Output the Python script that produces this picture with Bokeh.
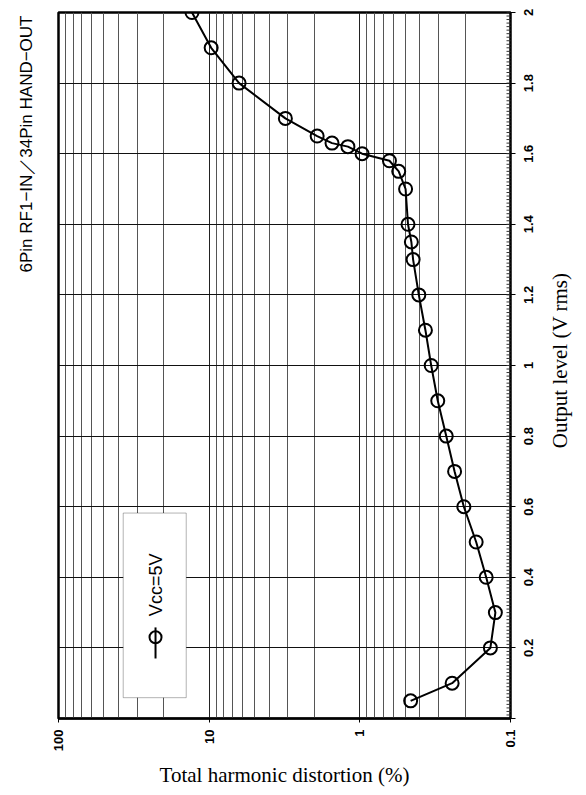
from math import pi
import numpy as np
from bokeh.plotting import figure
from bokeh.models import Range1d, FixedTicker, BoxAnnotation, Label, LinearAxis
from bokeh.embed import file_html
from bokeh.resources import INLINE

# ---- data ----
output_level = [0.05, 0.1, 0.2, 0.3, 0.4, 0.5, 0.6, 0.7, 0.8, 0.9, 1.0, 1.1,
                1.2, 1.3, 1.35, 1.4, 1.5, 1.55, 1.58, 1.6, 1.62, 1.63, 1.65,
                1.7, 1.8, 1.9, 2.0]
thd = [0.46, 0.244, 0.136, 0.126, 0.145, 0.169, 0.204, 0.235, 0.267, 0.304,
       0.336, 0.367, 0.406, 0.443, 0.455, 0.479, 0.497, 0.552, 0.636, 0.966,
       1.2, 1.53, 1.92, 3.12, 6.33, 9.7, 13.0]
series_name = "Vcc=5V"

x_ticks = [0.1, 1, 10, 100]
x_labels = ["0.1", "1", "10", "100"]
y_ticks = [0, 0.2, 0.4, 0.6, 0.8, 1.0, 1.2, 1.4, 1.6, 1.8, 2.0]
y_labels = ["0", "0.2", "0.4", "0.6", "0.8", "1", "1.2", "1.4", "1.6", "1.8", "2"]

title_text = "6Pin RF1\u2212IN\uff0f34Pin HAND\u2212OUT"
x_title = "Total harmonic distortion (%)"
y_title = "Output level (V rms)"

FW, FH = 452, 706
X0, X1 = 100, 0.1
Y0, Y1 = 0, 2
px_per_unit = FH / (Y1 - Y0)

# ---- figure ----
p = figure(frame_width=FW, frame_height=FH,
           x_axis_type="log", x_range=Range1d(X0, X1), y_range=Range1d(Y0, Y1),
           y_axis_location="right", output_backend="svg", toolbar_location=None,
           min_border_left=58, min_border_right=68, min_border_top=12,
           min_border_bottom=68, background_fill_color="white",
           border_fill_color="white")
p.outline_line_color = "black"
p.outline_line_width = 2.5

x_minor = [m * d for d in (0.1, 1, 10) for m in range(2, 10)]
xt = FixedTicker(ticks=x_ticks, minor_ticks=x_minor)
yt = FixedTicker(ticks=y_ticks)

xa = p.xaxis[0]
xa.ticker = xt
xa.major_label_overrides = dict(zip(x_ticks, x_labels))
xa.major_label_orientation = pi / 2
xa.major_label_text_font = "Liberation Sans"
xa.major_label_text_font_style = "bold"
xa.major_label_text_font_size = "13px"
xa.major_label_text_color = "black"
xa.major_label_standoff = 7
xa.major_tick_out = 4
xa.major_tick_in = 0
xa.minor_tick_line_color = None
xa.axis_line_width = 2
xa.axis_line_color = "black"
xa.major_tick_line_color = "black"
xa.axis_label = x_title
xa.axis_label_text_font = "Liberation Serif"
xa.axis_label_text_font_style = "normal"
xa.axis_label_text_font_size = "21px"
xa.axis_label_text_color = "black"
xa.axis_label_standoff = 9

# right axis: labels rotated to read bottom-to-top and centred on their ticks;
# the outward tick marks at the label values are drawn as this axis' minor ticks
def text_px(s, size):
    w = {".": 0.278}
    return sum(w.get(c, 0.556) for c in s) * size

lab_size = 13
shifted = [t - text_px(l, lab_size) / 2 / px_per_unit for t, l in zip(y_ticks, y_labels)]
ya = p.yaxis[0]
ya.ticker = FixedTicker(ticks=shifted, minor_ticks=y_ticks)
ya.bounds = (-0.2, 2.2)
ya.major_label_overrides = dict(zip(shifted, y_labels))
ya.major_label_orientation = pi / 2
ya.major_label_text_font = "Liberation Sans"
ya.major_label_text_font_style = "bold"
ya.major_label_text_font_size = f"{lab_size}px"
ya.major_label_text_color = "black"
ya.major_label_standoff = 13
ya.axis_line_color = None
ya.major_tick_line_color = None
ya.major_tick_out = 0
ya.major_tick_in = 0
ya.minor_tick_line_color = "black"
ya.minor_tick_line_width = 1
ya.minor_tick_out = 5
ya.minor_tick_in = 0

# right axis title, reading bottom-to-top
title_center = 1.015
title_half_px = 88
tpos = title_center - title_half_px / px_per_unit
yc = LinearAxis(ticker=FixedTicker(ticks=[tpos]),
                major_label_overrides={tpos: y_title},
                major_label_orientation=pi / 2, bounds=(-0.5, 2.5),
                axis_line_color=None, major_tick_line_color=None,
                minor_tick_line_color=None, major_tick_out=0, major_tick_in=0,
                minor_tick_out=0, minor_tick_in=0, major_label_standoff=20,
                major_label_text_font="Liberation Serif",
                major_label_text_font_style="normal",
                major_label_text_font_size="21px",
                major_label_text_color="black")
p.add_layout(yc, "right")

# left title, reading bottom-to-top, its top end near the top of the frame
ltop = Y1 - 3 / px_per_unit
yl = LinearAxis(ticker=FixedTicker(ticks=[ltop]),
                major_label_overrides={ltop: title_text},
                major_label_orientation=pi / 2, bounds=(-0.5, 2.5),
                axis_line_color=None, major_tick_line_color=None,
                minor_tick_line_color=None, major_tick_out=0, major_tick_in=0,
                minor_tick_out=0, minor_tick_in=0, major_label_standoff=32,
                major_label_text_font="Liberation Sans",
                major_label_text_font_style="normal",
                major_label_text_font_size="17px",
                major_label_text_color="black")
p.add_layout(yl, "left")

p.xgrid.ticker = xt
p.xgrid.grid_line_color = "#222222"
p.xgrid.grid_line_width = 1
p.xgrid.minor_grid_line_color = "#555555"
p.xgrid.minor_grid_line_width = 1
p.ygrid.ticker = yt
p.ygrid.grid_line_color = "#111111"
p.ygrid.grid_line_width = 1
p.ygrid.minor_grid_line_color = None

# dense inward minor ticks along the right edge (every 0.01 V)
inner_ticks = np.round(np.arange(0, 2.0001, 0.01), 2)
p.scatter(np.full(len(inner_ticks), X1), inner_ticks, marker="dash", size=8,
          line_color="#333333", line_width=1)

# ---- data series ----
p.line(thd, output_level, line_color="black", line_width=2)
p.scatter(thd, output_level, marker="circle", size=13, fill_alpha=0,
          line_color="black", line_width=2)

# ---- rotated legend drawn by hand ----
p.add_layout(BoxAnnotation(left=37.2, right=14.2, bottom=0.059, top=0.582,
                           fill_color="white", fill_alpha=1,
                           line_color="black", line_width=1, level="annotation"))
leg_x = 22.7
p.line([leg_x, leg_x], [0.17, 0.258], line_color="black", line_width=2, level="overlay")
p.scatter([leg_x], [0.23], marker="circle", size=12, fill_alpha=0,
          line_color="black", line_width=2, level="overlay")
p.add_layout(Label(x=leg_x, y=0.29, text=series_name, angle=pi / 2,
                   text_align="left", text_baseline="middle",
                   text_font="Liberation Sans", text_font_size="18px",
                   text_color="black", level="overlay"))

open("out.html", "w").write(file_html(p, INLINE))
